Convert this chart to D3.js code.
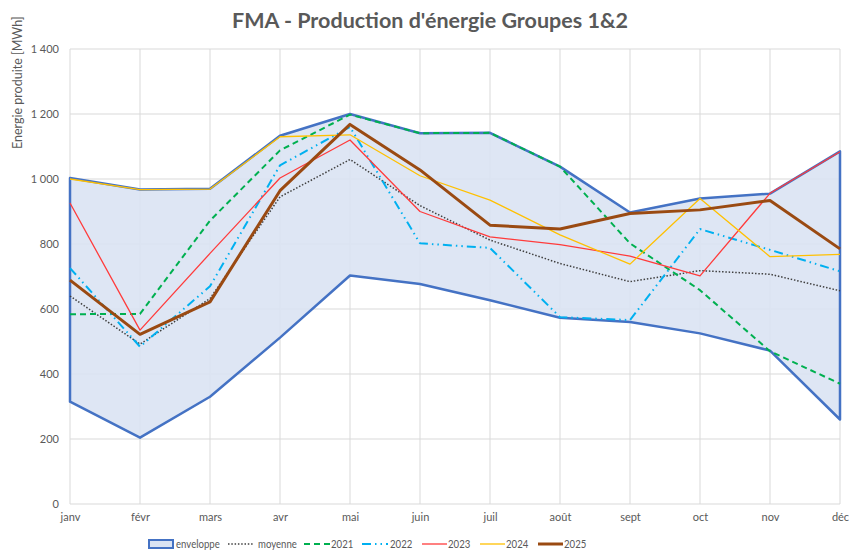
<!DOCTYPE html>
<html>
<head>
<meta charset="utf-8">
<script src="https://cdn.jsdelivr.net/npm/d3@7"></script>
<style>
  body { margin: 0; background: #fff; }
  svg { font-family: Lato, "Open Sans", sans-serif; }
</style>
</head>
<body>
<svg width="849" height="553"></svg>
<script>
// Monthly data (MWh)
const months = ["janv", "févr", "mars", "avr", "mai", "juin", "juil", "août", "sept", "oct", "nov", "déc"];
const envMax = [1003, 968, 970, 1133, 1200, 1141, 1142, 1038, 897, 940, 955, 1085];
const envMin = [315, 204, 330, 512, 703, 677, 627, 573, 560, 525, 472, 260];
const moyenne = [640, 492, 632, 945, 1060, 918, 812, 740, 684, 718, 707, 656];
const y2021 = [584, 585, 872, 1088, 1198, 1141, 1142, 1038, 802, 658, 470, 370];
const y2022 = [726, 484, 670, 1042, 1160, 802, 788, 575, 566, 846, 782, 716];
const y2023 = [926, 535, 771, 1003, 1120, 900, 822, 798, 763, 702, 956, 1084];
const y2024 = [1000, 967, 969, 1130, 1136, 1010, 935, 828, 738, 940, 761, 768];
const y2025 = [689, 522, 622, 964, 1168, 1028, 858, 846, 894, 905, 934, 785];
const yTicks = [0, 200, 400, 600, 800, 1000, 1200, 1400];

const series = [
    { name: "moyenne", values: moyenne, color: "#404040", width: 1.5, dash: "1.5 1.8" },
    { name: "2021", values: y2021, color: "#00B050", width: 2, dash: "6 4" },
    { name: "2022", values: y2022, color: "#00B0F0", width: 2, dash: "9 4 1.5 4 1.5 4" },
    { name: "2023", values: y2023, color: "#FF3B3B", width: 1.3, dash: null },
    { name: "2024", values: y2024, color: "#FFC000", width: 1.3, dash: null },
    { name: "2025", values: y2025, color: "#9A4A12", width: 3, dash: null }
];

const svg = d3.select("svg");

const x = d3.scalePoint()
    .domain(months)
    .range([70, 840]);

const y = d3.scaleLinear()
    .domain([0, 1400])
    .range([504, 49]);

// Title
svg.append("text")
    .attr("x", 430)
    .attr("y", 28)
    .attr("text-anchor", "middle")
    .attr("font-size", 21.5)
    .attr("font-weight", "bold")
    .attr("fill", "#595959")
    .text("FMA - Production d'énergie Groupes 1&2");

// Y axis title
svg.append("text")
    .attr("transform", "translate(22,149) rotate(-90)")
    .attr("text-anchor", "start")
    .attr("font-size", 12.5)
    .attr("fill", "#595959")
    .text("Energie produite [MWh]");

// Gridlines
svg.append("g")
    .selectAll("line")
    .data(yTicks)
    .join("line")
    .attr("x1", 70)
    .attr("x2", 840)
    .attr("y1", d => y(d))
    .attr("y2", d => y(d))
    .attr("stroke", "#d9d9d9")
    .attr("stroke-width", 1);

svg.append("g")
    .selectAll("line")
    .data(months)
    .join("line")
    .attr("x1", d => x(d))
    .attr("x2", d => x(d))
    .attr("y1", y(0))
    .attr("y2", y(1400))
    .attr("stroke", "#d9d9d9")
    .attr("stroke-width", 1);

// Y axis labels
const fmt = d => d3.format(",")(d).replace(",", " ");
const yAxis = svg.append("g")
    .attr("transform", "translate(62,0)")
    .call(d3.axisLeft(y).tickValues(yTicks).tickFormat(fmt).tickSize(0));
yAxis.select(".domain").remove();
yAxis.selectAll("text")
    .attr("font-family", "Lato, 'Open Sans', sans-serif")
    .attr("font-size", 11)
    .attr("fill", "#595959");

// X axis labels
const xAxis = svg.append("g")
    .attr("transform", "translate(0,510)")
    .call(d3.axisBottom(x).tickSize(0));
xAxis.select(".domain").remove();
xAxis.selectAll("text")
    .attr("font-family", "Lato, 'Open Sans', sans-serif")
    .attr("font-size", 11)
    .attr("fill", "#595959");

// Envelope: closed polygon, top forward then bottom backward
const envPoints = months.map((m, i) => [x(m), y(envMax[i])])
    .concat(months.map((m, i) => [x(m), y(envMin[i])]).reverse());

svg.append("path")
    .attr("d", d3.line()(envPoints) + "Z")
    .attr("fill", "#DAE3F3")
    .attr("fill-opacity", 0.9)
    .attr("stroke", "#4472C4")
    .attr("stroke-width", 2.5)
    .attr("stroke-linejoin", "round");

// Series lines
const line = d3.line()
    .x((d, i) => x(months[i]))
    .y(d => y(d));

svg.append("g")
    .selectAll("path")
    .data(series)
    .join("path")
    .attr("d", d => line(d.values))
    .attr("fill", "none")
    .attr("stroke", d => d.color)
    .attr("stroke-width", d => d.width)
    .attr("stroke-dasharray", d => d.dash)
    .attr("stroke-linejoin", "round");

// Legend (text squeezed horizontally to mimic the narrow original font)
const legendY = 544;
const legend = svg.append("g")
    .attr("font-size", 12)
    .attr("fill", "#595959");

function legendText(tx, label) {
    legend.append("text")
        .attr("transform", `translate(${tx},${legendY + 4}) scale(0.8,1)`)
        .text(label);
}

legend.append("rect")
    .attr("x", 149)
    .attr("y", legendY - 4)
    .attr("width", 24)
    .attr("height", 8)
    .attr("fill", "#DAE3F3")
    .attr("stroke", "#4472C4")
    .attr("stroke-width", 2);
legendText(176, "enveloppe");

const legendPos = [
    { x1: 228, x2: 253, tx: 258 },
    { x1: 304, x2: 330, tx: 331 },
    { x1: 362, x2: 388, tx: 390 },
    { x1: 422, x2: 447, tx: 448 },
    { x1: 480, x2: 505, tx: 506 },
    { x1: 538, x2: 563, tx: 564 }
];

series.forEach((s, i) => {
    const p = legendPos[i];
    legend.append("line")
        .attr("x1", p.x1)
        .attr("x2", p.x2)
        .attr("y1", legendY)
        .attr("y2", legendY)
        .attr("stroke", s.color)
        .attr("stroke-width", s.width)
        .attr("stroke-dasharray", s.dash);
    legendText(p.tx, s.name);
});
</script>
</body>
</html>
